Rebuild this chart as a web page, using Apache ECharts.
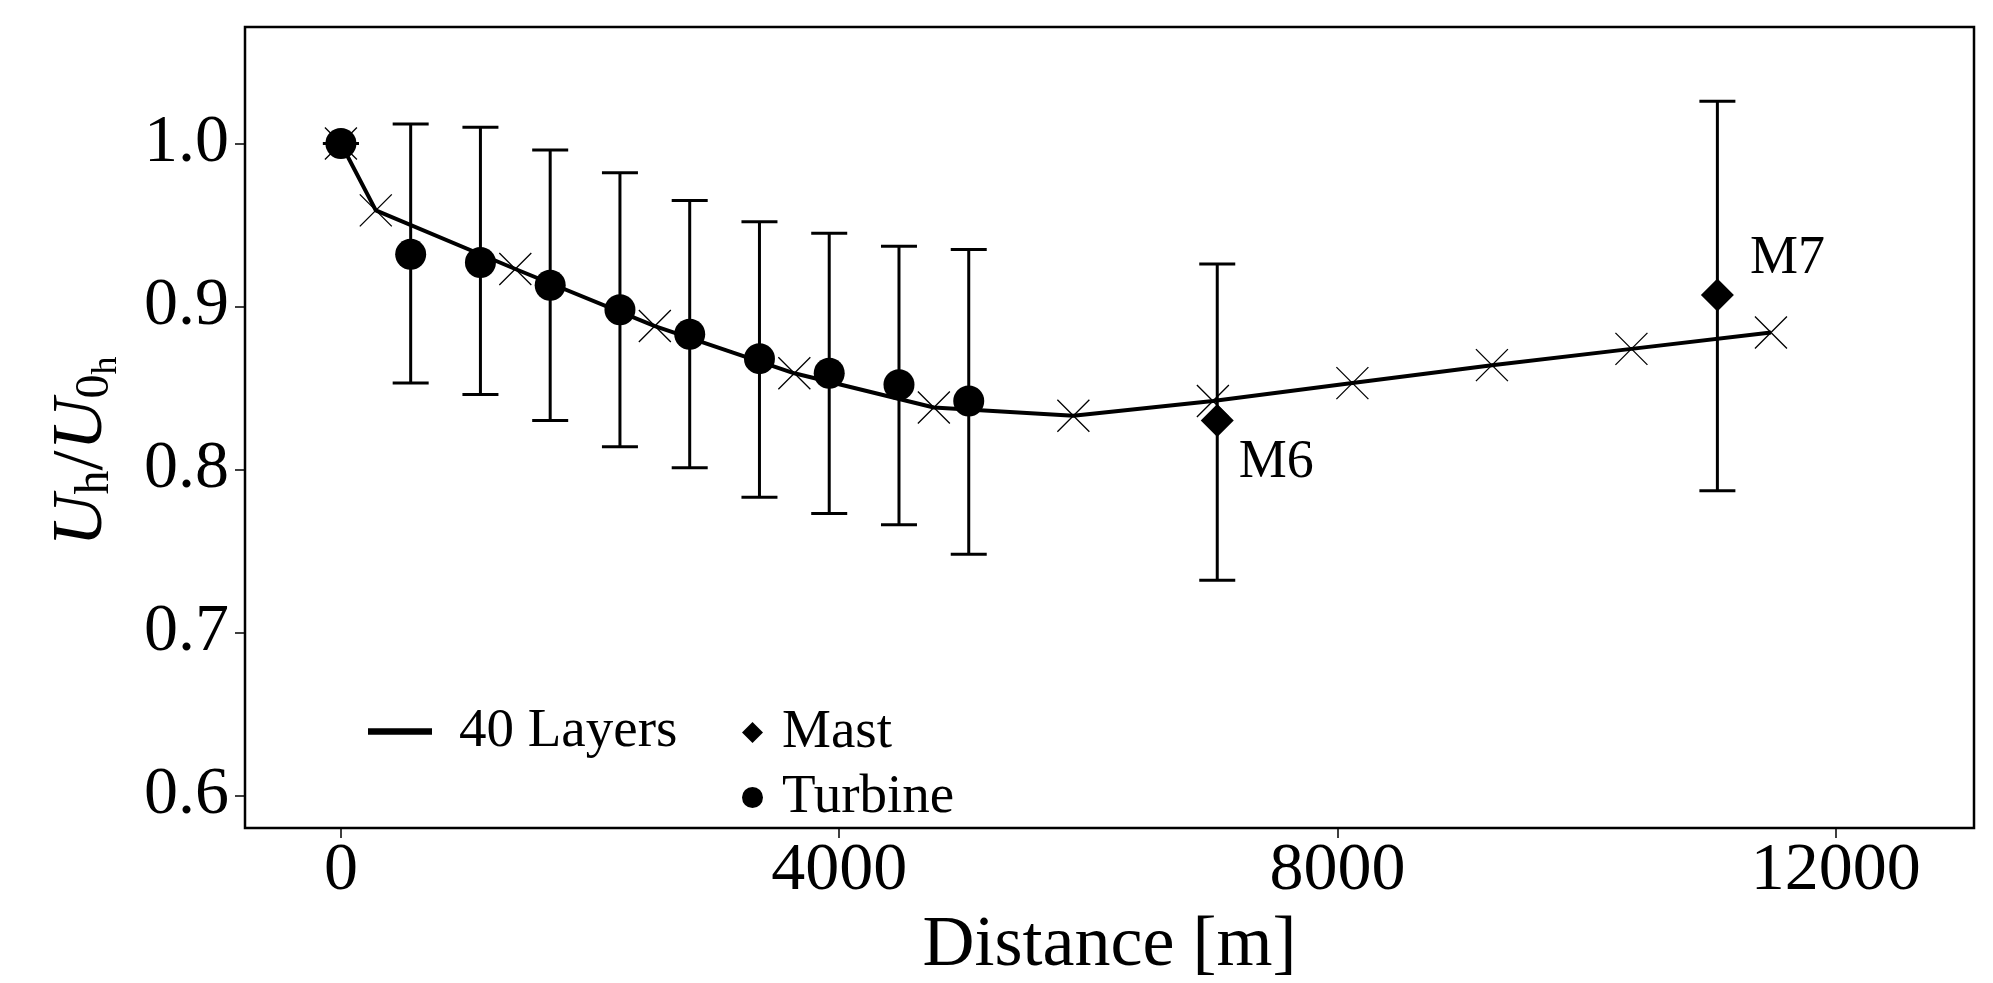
<!DOCTYPE html>
<html>
<head>
<meta charset="utf-8">
<title>Uh/U0h vs distance</title>
<script src="https://cdn.jsdelivr.net/npm/echarts@6/dist/echarts.min.js"></script>
<style>
html, body { margin: 0; padding: 0; background: #fff; }
#chart { width: 1993px; height: 983px; }
</style>
</head>
<body>
<div id="chart"></div>
<script>
// 40 layer simulation line
var layerX = [0, 280, 1400, 2520, 3640, 4760, 5880, 7000, 8120, 9240, 10360, 11480];
var layerY = [1.0, 0.959, 0.923, 0.888, 0.859, 0.838, 0.833, 0.842, 0.853, 0.864, 0.874, 0.884];

// turbines with error bars
var turbineX = [0, 560, 1120, 1680, 2240, 2800, 3360, 3920, 4480, 5040];
var turbineY = [1.0, 0.932, 0.927, 0.913, 0.898, 0.883, 0.868, 0.859, 0.852, 0.842];
var turbineLow = [1.0, 0.853, 0.846, 0.830, 0.814, 0.801, 0.783, 0.773, 0.766, 0.748];
var turbineHigh = [1.0, 1.012, 1.010, 0.996, 0.982, 0.965, 0.952, 0.945, 0.937, 0.935];

// masts
var mastNames = ['M6', 'M7'];
var mastX = [7035, 11050];
var mastY = [0.830, 0.907];
var mastLow = [0.732, 0.787];
var mastHigh = [0.926, 1.026];

var xTicks = [0, 4000, 8000, 12000];
var yTicks = [0.6, 0.7, 0.8, 0.9, 1.0];

var serif = 'Liberation Serif';
var xMarker = 'path://M0,0L10,10M10,0L0,10';

function zip(a, b, c) {
    return a.map(function (v, i) {
        return c ? [v, b[i], c[i]] : [v, b[i]];
    });
}

function renderErr(params, api) {
    var x = api.value(0);
    var top = api.coord([x, api.value(2)]);
    var bot = api.coord([x, api.value(1)]);
    var w = 18;
    var style = {stroke: '#000', lineWidth: 3};
    return {
        type: 'group',
        children: [
            {type: 'line', shape: {x1: top[0], y1: top[1], x2: bot[0], y2: bot[1]}, style: style},
            {type: 'line', shape: {x1: top[0] - w, y1: top[1], x2: top[0] + w, y2: top[1]}, style: style},
            {type: 'line', shape: {x1: bot[0] - w, y1: bot[1], x2: bot[0] + w, y2: bot[1]}, style: style}
        ]
    };
}

// M6 sits below-right, M7 above-right
var mastLabelOffset = [[0, 42], [11, -36]];

var myChart = echarts.init(document.getElementById('chart'));

var option = {
    animation: false,
    backgroundColor: '#fff',
    grid: {
        left: 245, right: 19, top: 27, bottom: 155,
        outerBoundsMode: 'none',
        containLabel: false,
        show: true, borderColor: '#000', borderWidth: 2.5
    },
    legend: [
        {
            left: 368, top: 704, padding: 0, orient: 'horizontal',
            itemWidth: 62, itemHeight: 4.5,
            data: [{name: '40 Layers', icon: 'rect', itemStyle: {color: '#000'}}],
            textStyle: {fontFamily: serif, fontSize: 55, color: '#000', padding: [0, 0, 0, 23]}
        },
        {
            left: 742, top: 705, padding: 0, orient: 'vertical',
            itemWidth: 21, itemHeight: 21, itemGap: 10,
            data: [
                {name: 'Mast', icon: 'diamond', itemStyle: {color: '#000'}},
                {name: 'Turbine', icon: 'circle', itemStyle: {color: '#000'}}
            ],
            textStyle: {fontFamily: serif, fontSize: 55, color: '#000', padding: [0, 0, 0, 14]}
        }
    ],
    xAxis: {
        type: 'value',
        min: -770, max: 13110,
        splitLine: {show: false},
        axisLine: {show: false, onZero: false},
        axisTick: {show: true, inside: false, length: 10, customValues: xTicks, lineStyle: {color: '#000', width: 1.5}},
        axisLabel: {
            customValues: xTicks, fontFamily: serif, fontSize: 68, color: '#000', margin: 9,
            formatter: function (v) { return String(v); }
        },
        name: 'Distance [m]',
        nameLocation: 'middle',
        nameGap: 74,
        nameTextStyle: {fontFamily: serif, fontSize: 72, color: '#000'}
    },
    yAxis: {
        type: 'value',
        min: 0.58, max: 1.0715,
        splitLine: {show: false},
        axisLine: {show: false, onZero: false},
        axisTick: {show: true, inside: false, length: 10, customValues: yTicks, lineStyle: {color: '#000', width: 1.5}},
        axisLabel: {
            customValues: yTicks, fontFamily: serif, fontSize: 68, color: '#000', margin: 16,
            formatter: function (v) { return v.toFixed(1); }
        },
        name: '{i|U}{s|h}{n|/}{i|U}{s|0}{t|h}',
        nameLocation: 'middle',
        nameRotate: 90,
        nameGap: 120,
        nameTextStyle: {
            padding: [0, 48, 0, 0],
            rich: {
                i: {fontFamily: serif, fontStyle: 'italic', fontSize: 72, color: '#000'},
                n: {fontFamily: serif, fontSize: 72, color: '#000'},
                s: {fontFamily: serif, fontSize: 48, color: '#000', padding: [26, 0, 0, 0]},
                t: {fontFamily: serif, fontSize: 36, color: '#000', padding: [50, 0, 0, 0]}
            }
        }
    },
    series: [
        {
            name: '40 Layers',
            type: 'line',
            data: zip(layerX, layerY),
            symbol: xMarker,
            symbolSize: 32,
            lineStyle: {color: '#000', width: 4},
            itemStyle: {color: '#000', borderColor: '#000', borderWidth: 1.3},
            z: 2
        },
        {
            name: 'turbineErr',
            type: 'custom',
            renderItem: renderErr,
            data: zip(turbineX, turbineLow, turbineHigh),
            encode: {x: 0, y: [1, 2]},
            z: 3
        },
        {
            name: 'mastErr',
            type: 'custom',
            renderItem: renderErr,
            data: zip(mastX, mastLow, mastHigh),
            encode: {x: 0, y: [1, 2]},
            z: 3
        },
        {
            name: 'Turbine',
            type: 'scatter',
            data: zip(turbineX, turbineY),
            symbol: 'circle',
            symbolSize: 31,
            itemStyle: {color: '#000', opacity: 1},
            z: 4
        },
        {
            name: 'Mast',
            type: 'scatter',
            data: mastX.map(function (x, i) {
                return {
                    value: [x, mastY[i]],
                    name: mastNames[i],
                    label: {offset: mastLabelOffset[i]}
                };
            }),
            symbol: 'diamond',
            symbolSize: 33,
            itemStyle: {color: '#000', opacity: 1},
            label: {
                show: true, position: 'right',
                formatter: function (p) { return p.name; },
                fontFamily: serif, fontSize: 54, color: '#000'
            },
            z: 4
        }
    ]
};

myChart.setOption(option);
</script>
</body>
</html>
